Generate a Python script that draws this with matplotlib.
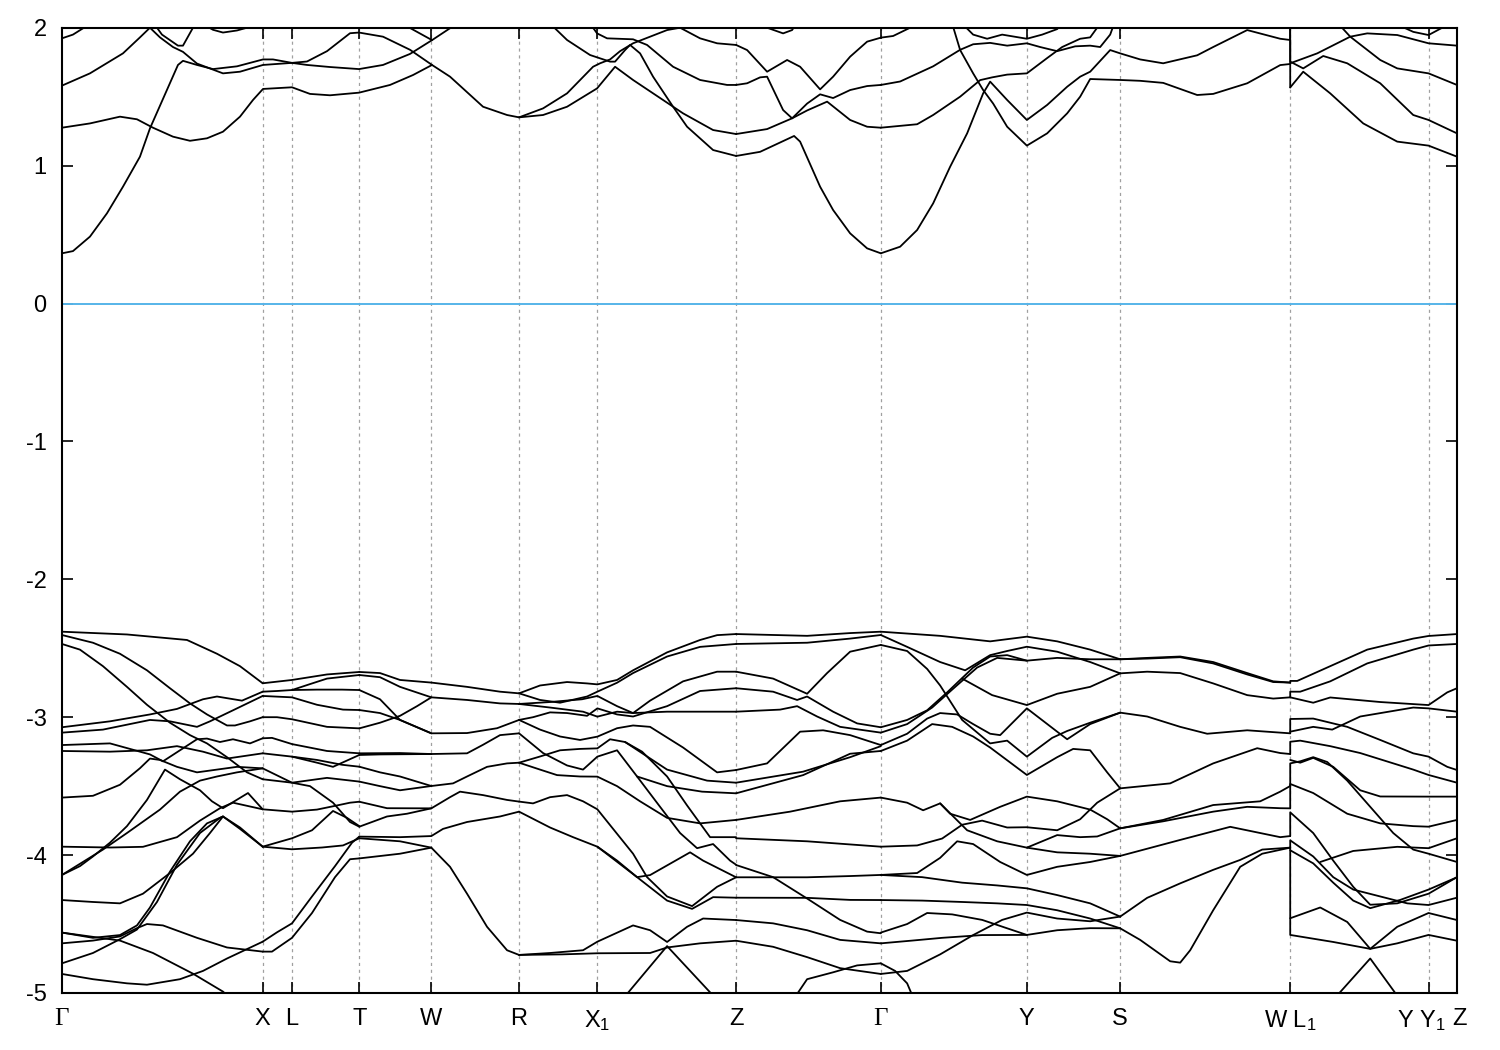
import matplotlib
matplotlib.use("Agg")
import matplotlib.pyplot as plt
import matplotlib.transforms as mtransforms

plt.rcParams['font.family'] = ['Liberation Sans', 'DejaVu Sans']
plt.rcParams['mathtext.fontset'] = 'custom'
plt.rcParams['mathtext.rm'] = 'Liberation Sans'
plt.rcParams['mathtext.it'] = 'Liberation Sans'
plt.rcParams['axes.unicode_minus'] = False

# high-symmetry points along the k-path
kpoints = [0.0, 2.007, 2.30, 2.973, 3.693, 4.57, 5.353, 6.74, 8.187, 9.647, 10.58, 12.28, 13.663, 13.947]
klabels = ['Γ', 'X', 'L', 'T', 'W', 'R', 'X$_1$', 'Z', 'Γ', 'Y', 'S', 'W L$_1$', 'Y Y$_1$', 'Z']

# conduction bands, (k, E) pairs
cb_gamma_R = [
    [(0, 0.364), (0.11, 0.38), (0.28, 0.485), (0.45, 0.654), (0.61, 0.847), (0.78, 1.065), (0.88, 1.27), (1.02, 1.50),
     (1.16, 1.73), (1.21, 1.76), (1.35, 1.73), (1.51, 1.70), (1.75, 1.72), (2.01, 1.77), (2.11, 1.77), (2.30, 1.745),
     (2.45, 1.755), (2.65, 1.83), (2.88, 1.96), (2.97, 1.965), (3.21, 1.935), (3.48, 1.84), (3.70, 1.73), (3.88, 1.645),
     (4.21, 1.427), (4.45, 1.367), (4.57, 1.35)],
    [(0, 1.275), (0.28, 1.306), (0.58, 1.355), (0.75, 1.336), (0.86, 1.294), (0.91, 1.275), (1.11, 1.21), (1.28, 1.18),
     (1.45, 1.198), (1.61, 1.246), (1.78, 1.355), (1.91, 1.476), (2.01, 1.556), (2.30, 1.568), (2.48, 1.52), (2.68, 1.51),
     (2.97, 1.529), (3.28, 1.585), (3.51, 1.657), (3.70, 1.73)],
    [(0, 1.58), (0.28, 1.669), (0.61, 1.814), (0.78, 1.93), (0.88, 2.0), (0.98, 1.93), (1.11, 1.86), (1.21, 1.825),
     (1.35, 1.74), (1.61, 1.669), (1.78, 1.681), (2.01, 1.73), (2.30, 1.745), (2.45, 1.73), (2.68, 1.715), (2.97, 1.70),
     (3.21, 1.73), (3.48, 1.81), (3.70, 1.91), (3.95, 2.03)],
    [(0, 1.923), (0.11, 1.95), (0.22, 2.0), (0.26, 2.03)],
    [(0.92, 2.03), (1.0, 1.95), (1.16, 1.87), (1.21, 1.87), (1.31, 2.0), (1.33, 2.03)],
    [(1.40, 2.03), (1.51, 1.985), (1.61, 1.965), (1.75, 1.98), (1.85, 2.0), (1.90, 2.03)],
    [(3.40, 2.03), (3.55, 1.97), (3.70, 1.91)],
]

cb_R_gamma = [
    [(4.57, 1.35), (4.81, 1.415), (5.05, 1.524), (5.31, 1.717), (5.38, 1.742), (5.48, 1.77), (5.58, 1.83), (5.71, 1.887),
     (5.88, 1.935), (6.05, 1.983), (6.18, 2.0), (6.38, 1.923), (6.55, 1.887), (6.74, 1.875)],
    [(4.57, 1.35), (4.81, 1.367), (5.05, 1.427), (5.35, 1.56), (5.53, 1.717), (5.71, 1.621), (5.96, 1.50), (6.21, 1.379),
     (6.51, 1.258), (6.74, 1.229)],
    [(4.88, 2.03), (5.05, 1.911), (5.28, 1.802), (5.48, 1.754), (5.53, 1.754), (5.63, 1.838), (5.68, 1.875), (5.78, 1.814),
     (5.91, 1.645), (6.11, 1.427), (6.25, 1.282), (6.51, 1.113), (6.74, 1.07)],
    [(5.28, 2.03), (5.35, 1.959), (5.45, 1.923), (5.71, 1.916), (5.85, 1.875), (6.11, 1.717), (6.38, 1.621), (6.65, 1.585),
     (6.74, 1.585)],
    [(6.74, 1.07), (6.98, 1.10), (7.32, 1.215), (7.38, 1.174), (7.58, 0.847), (7.71, 0.678), (7.88, 0.509), (8.05, 0.40),
     (8.187, 0.364)],
    [(6.74, 1.229), (7.05, 1.265), (7.30, 1.343), (7.45, 1.45), (7.58, 1.517), (7.71, 1.49), (7.88, 1.548), (8.05, 1.577),
     (8.187, 1.585)],
    [(6.74, 1.875), (6.85, 1.838), (7.05, 1.681), (7.25, 1.766), (7.38, 1.717), (7.58, 1.553), (7.71, 1.645), (7.88, 1.79),
     (8.05, 1.899), (8.187, 1.928), (8.31, 1.94), (8.48, 2.0), (8.52, 2.03)],
    [(6.74, 1.585), (6.85, 1.597), (6.98, 1.64), (7.05, 1.645), (7.21, 1.403), (7.30, 1.343), (7.45, 1.40), (7.65, 1.464),
     (7.88, 1.331), (8.05, 1.282), (8.187, 1.275)],
    [(6.98, 2.03), (7.05, 2.0), (7.21, 1.959), (7.30, 1.983), (7.34, 2.03)],
]

cb_gamma_W = [
    [(8.187, 0.364), (8.38, 0.412), (8.55, 0.533), (8.71, 0.726), (8.88, 0.992), (9.05, 1.234), (9.21, 1.524), (9.28, 1.609),
     (9.45, 1.476), (9.647, 1.331), (9.85, 1.44), (10.05, 1.572), (10.18, 1.645), (10.28, 1.681), (10.48, 1.838),
     (10.58, 1.814), (10.78, 1.77), (11.01, 1.742), (11.35, 1.80), (11.51, 1.86), (11.85, 1.983), (12.18, 1.92),
     (12.28, 1.911), (12.28, 1.742)],
    [(8.90, 2.03), (8.98, 1.838), (9.11, 1.669), (9.21, 1.548), (9.31, 1.45), (9.45, 1.282), (9.647, 1.145), (9.85, 1.234),
     (10.05, 1.379), (10.18, 1.50), (10.28, 1.628), (10.58, 1.621), (10.78, 1.615), (11.01, 1.60), (11.35, 1.512),
     (11.51, 1.52), (11.85, 1.597), (12.18, 1.729), (12.28, 1.737), (12.28, 1.567)],
    [(8.187, 1.275), (8.55, 1.30), (8.71, 1.367), (8.98, 1.50), (9.18, 1.62), (9.30, 1.64), (9.45, 1.66), (9.647, 1.669),
     (9.85, 1.78), (10.0, 1.86), (10.18, 1.92), (10.28, 1.93), (10.38, 2.03)],
    [(8.187, 1.585), (8.38, 1.61), (8.71, 1.72), (8.98, 1.84), (9.11, 1.88), (9.28, 1.89), (9.45, 1.87), (9.647, 1.887),
     (9.78, 1.86), (9.95, 1.83), (10.13, 1.865), (10.28, 1.87), (10.38, 1.86), (10.48, 1.95), (10.52, 2.03)],
    [(9.0, 2.03), (9.11, 1.95), (9.25, 1.92), (9.40, 1.95), (9.647, 1.92), (9.80, 1.95), (9.95, 1.99), (10.0, 2.03)],
]

cb_L1_Z = [
    [(12.28, 1.567), (12.41, 1.681), (12.68, 1.524), (13.01, 1.306), (13.35, 1.174), (13.663, 1.145), (13.947, 1.065)],
    [(12.28, 2.03), (12.28, 1.754), (12.41, 1.705), (12.61, 1.795), (12.85, 1.742), (13.18, 1.597), (13.51, 1.367),
     (13.663, 1.331), (13.947, 1.234)],
    [(12.28, 1.742), (12.55, 1.814), (12.88, 1.935), (13.05, 1.959), (13.35, 1.947), (13.663, 1.887), (13.947, 1.87)],
    [(12.76, 2.03), (12.88, 1.935), (13.18, 1.766), (13.35, 1.705), (13.663, 1.669), (13.947, 1.585)],
    [(13.33, 2.03), (13.51, 1.97), (13.663, 1.947), (13.80, 2.0), (13.85, 2.03)],
]

# valence bands, (k, E) pairs
vb_gamma_X = [
    [(0, -2.38), (0.65, -2.40), (1.25, -2.44), (1.55, -2.54), (1.78, -2.63), (2.007, -2.754)],
    [(0, -2.404), (0.31, -2.46), (0.58, -2.54), (0.85, -2.66), (1.08, -2.79), (1.28, -2.90), (1.45, -2.98), (1.65, -3.06),
     (1.73, -3.06), (1.88, -3.03), (2.007, -3.0)],
    [(0, -2.469), (0.18, -2.51), (0.41, -2.63), (0.65, -2.78), (0.85, -2.91), (1.08, -3.04), (1.28, -3.13), (1.45, -3.19),
     (1.65, -3.29), (1.85, -3.40), (2.007, -3.45)],
    [(0, -3.073), (0.48, -3.03), (0.88, -2.98), (1.15, -2.94), (1.41, -2.87), (1.55, -2.85), (1.80, -2.88), (2.007, -2.815)],
    [(0, -3.112), (0.41, -3.09), (0.88, -3.02), (1.08, -3.03), (1.35, -3.07), (1.48, -3.03), (1.71, -2.95), (2.007, -2.846)],
    [(0, -3.202), (0.48, -3.19), (0.88, -3.27), (1.01, -3.32), (1.18, -3.24), (1.35, -3.16), (1.45, -3.155), (1.58, -3.18),
     (1.71, -3.16), (1.88, -3.19), (2.007, -3.153)],
    [(0, -3.245), (0.48, -3.25), (0.85, -3.24), (1.15, -3.21), (1.41, -3.25), (1.65, -3.30), (2.007, -3.262)],
    [(0, -3.583), (0.31, -3.57), (0.58, -3.49), (0.78, -3.37), (0.88, -3.30), (0.98, -3.31), (1.15, -3.36), (1.35, -3.40),
     (1.55, -3.38), (1.75, -3.36), (2.007, -3.371)],
    [(0, -3.939), (0.48, -3.945), (0.81, -3.94), (1.15, -3.87), (1.38, -3.75), (1.58, -3.66), (1.71, -3.62), (2.007, -3.668)],
    [(0, -4.144), (0.18, -4.08), (0.31, -4.01), (0.48, -3.91), (0.65, -3.79), (0.85, -3.60), (1.03, -3.38), (1.18, -3.45),
     (1.38, -3.53), (1.50, -3.61), (1.61, -3.66), (1.86, -3.55), (2.007, -3.668)],
    [(0, -4.144), (0.41, -3.96), (0.65, -3.84), (0.98, -3.67), (1.18, -3.54), (1.38, -3.46), (1.55, -3.43), (1.75, -3.40),
     (2.007, -3.371)],
    [(0, -4.326), (0.31, -4.34), (0.58, -4.35), (0.81, -4.28), (1.08, -4.13), (1.31, -3.99), (1.48, -3.84), (1.61, -3.72),
     (1.78, -3.80), (2.007, -3.939)],
    [(0, -4.64), (0.31, -4.62), (0.58, -4.59), (0.75, -4.53), (0.85, -4.50), (1.01, -4.51), (1.35, -4.60), (1.65, -4.67),
     (2.007, -4.70)],
    [(0, -4.562), (0.31, -4.60), (0.58, -4.58), (0.75, -4.51), (0.88, -4.38), (1.08, -4.12), (1.28, -3.90), (1.45, -3.77),
     (1.61, -3.72), (1.78, -3.81), (2.007, -3.939)],
    [(0, -4.785), (0.31, -4.71), (0.58, -4.61), (0.75, -4.54), (0.95, -4.34), (1.15, -4.07), (1.38, -3.84), (1.58, -3.73),
     (1.61, -3.72)],
    [(0, -4.862), (0.31, -4.90), (0.65, -4.93), (0.85, -4.94), (1.18, -4.90), (1.41, -4.84), (1.65, -4.75), (2.007, -4.628)],
    [(0, -4.562), (0.58, -4.62), (0.91, -4.71), (1.31, -4.86), (1.61, -4.99), (1.70, -5.05)],
]

vb_X_T = [
    [(2.007, -2.754), (2.30, -2.73), (2.65, -2.69), (2.973, -2.672)],
    [(2.007, -2.815), (2.15, -2.81), (2.30, -2.803), (2.48, -2.76), (2.65, -2.72), (2.973, -2.694)],
    [(2.30, -2.803), (2.55, -2.80), (2.80, -2.80), (2.973, -2.803)],
    [(2.007, -2.846), (2.30, -2.856), (2.55, -2.91), (2.81, -2.945), (2.973, -2.948)],
    [(2.007, -3.0), (2.15, -3.0), (2.30, -3.015), (2.65, -3.07), (2.973, -3.081)],
    [(2.007, -3.153), (2.10, -3.15), (2.30, -3.195), (2.65, -3.245), (2.973, -3.262)],
    [(2.007, -3.262), (2.30, -3.286), (2.55, -3.33), (2.71, -3.36), (2.973, -3.274)],
    [(2.007, -3.371), (2.30, -3.475), (2.48, -3.50), (2.71, -3.62), (2.88, -3.76), (2.973, -3.794)],
    [(2.007, -3.45), (2.30, -3.475), (2.65, -3.44), (2.973, -3.467)],
    [(2.007, -3.668), (2.30, -3.685), (2.55, -3.67), (2.75, -3.64), (2.88, -3.62), (2.973, -3.613)],
    [(2.007, -3.939), (2.30, -3.878), (2.50, -3.82), (2.71, -3.68), (2.85, -3.73), (2.973, -3.79)],
    [(2.007, -3.939), (2.30, -3.958), (2.60, -3.945), (2.81, -3.93), (2.973, -3.878)],
    [(2.007, -4.628), (2.15, -4.56), (2.30, -4.495), (2.50, -4.30), (2.73, -4.08), (2.90, -3.91), (2.973, -3.866)],
    [(2.007, -4.70), (2.10, -4.70), (2.30, -4.60), (2.50, -4.42), (2.73, -4.16), (2.88, -4.03), (2.973, -4.024)],
    [(2.30, -3.286), (2.55, -3.31), (2.80, -3.345), (2.973, -3.359)],
]

vb_T_R = [
    [(2.973, -2.672), (3.18, -2.68), (3.38, -2.73), (3.693, -2.749), (4.05, -2.78), (4.38, -2.815), (4.57, -2.827)],
    [(2.973, -2.694), (3.18, -2.71), (3.38, -2.78), (3.693, -2.856), (4.05, -2.875), (4.38, -2.90), (4.57, -2.904)],
    [(2.973, -2.803), (3.18, -2.87), (3.38, -3.02), (3.693, -3.117), (4.05, -3.115), (4.35, -3.08), (4.57, -3.02)],
    [(2.973, -2.948), (3.18, -2.97), (3.38, -3.02), (3.693, -3.117)],
    [(2.973, -3.081), (3.18, -3.04), (3.38, -2.99), (3.55, -2.92), (3.693, -2.856)],
    [(2.973, -3.262), (3.38, -3.26), (3.693, -3.267), (4.05, -3.262), (4.21, -3.20), (4.38, -3.13), (4.57, -3.117)],
    [(2.973, -3.274), (3.18, -3.27), (3.693, -3.267)],
    [(2.973, -3.359), (3.18, -3.40), (3.38, -3.43), (3.693, -3.499), (3.91, -3.48), (4.05, -3.43), (4.25, -3.36),
     (4.45, -3.335), (4.57, -3.33)],
    [(2.973, -3.467), (3.18, -3.50), (3.38, -3.53), (3.693, -3.499)],
    [(2.973, -3.613), (3.25, -3.66), (3.693, -3.661), (3.88, -3.58), (3.98, -3.54), (4.21, -3.565), (4.45, -3.60),
     (4.57, -3.612)],
    [(2.973, -3.794), (3.25, -3.72), (3.45, -3.70), (3.693, -3.661)],
    [(2.973, -3.866), (3.38, -3.87), (3.693, -3.862), (3.81, -3.81), (4.05, -3.76), (4.38, -3.72), (4.57, -3.685)],
    [(2.973, -3.878), (3.38, -3.90), (3.693, -3.946), (3.88, -4.085), (4.05, -4.28), (4.25, -4.52), (4.45, -4.69),
     (4.57, -4.724)],
    [(2.973, -4.024), (3.38, -3.99), (3.693, -3.946)],
]

vb_R_Z = [
    [(4.57, -2.827), (4.78, -2.77), (5.05, -2.745), (5.25, -2.755), (5.353, -2.762), (5.55, -2.73), (5.71, -2.66),
     (6.05, -2.53), (6.38, -2.44), (6.55, -2.405), (6.74, -2.397)],
    [(4.57, -2.827), (4.78, -2.875), (4.98, -2.895), (5.25, -2.85), (5.353, -2.815), (5.55, -2.75), (5.71, -2.68),
     (6.05, -2.56), (6.38, -2.49), (6.74, -2.469)],
    [(4.57, -2.904), (4.88, -2.89), (5.2, -2.87), (5.353, -2.846), (5.55, -2.92), (5.71, -2.97), (5.88, -2.88),
     (6.21, -2.74), (6.55, -2.67), (6.74, -2.67)],
    [(4.57, -3.02), (4.71, -3.00), (4.88, -2.965), (5.05, -2.97), (5.25, -2.99), (5.353, -2.936), (5.55, -2.98),
     (5.71, -2.995), (6.05, -2.92), (6.38, -2.81), (6.74, -2.79)],
    [(4.57, -2.904), (4.88, -2.93), (5.21, -2.96), (5.353, -2.996), (5.55, -2.96), (5.71, -2.97), (6.05, -2.96),
     (6.38, -2.96), (6.74, -2.96)],
    [(4.57, -3.02), (4.78, -3.09), (4.98, -3.14), (5.18, -3.165), (5.353, -3.141), (5.55, -3.08), (5.71, -3.06),
     (5.88, -3.07), (6.21, -3.22), (6.55, -3.40), (6.74, -3.383)],
    [(4.57, -3.33), (4.78, -3.285), (4.98, -3.24), (5.18, -3.23), (5.353, -3.226), (5.48, -3.16), (5.63, -3.18),
     (5.80, -3.25), (6.05, -3.43), (6.25, -3.64), (6.48, -3.87), (6.74, -3.87)],
    [(4.57, -3.117), (4.81, -3.26), (5.05, -3.35), (5.21, -3.38), (5.353, -3.286), (5.55, -3.24), (5.75, -3.43),
     (5.98, -3.65), (6.18, -3.84), (6.35, -3.95), (6.51, -3.92), (6.68, -4.04), (6.74, -4.07)],
    [(4.57, -3.33), (4.78, -3.38), (4.95, -3.42), (5.18, -3.43), (5.353, -3.431), (5.55, -3.50), (5.78, -3.61),
     (6.05, -3.73), (6.38, -3.77), (6.74, -3.745)],
    [(4.57, -3.612), (4.71, -3.625), (4.88, -3.58), (5.05, -3.565), (5.21, -3.61), (5.353, -3.668), (5.71, -3.99),
     (5.85, -4.16), (6.05, -4.30), (6.30, -4.37), (6.55, -4.23), (6.74, -4.161)],
    [(4.57, -3.685), (4.88, -3.80), (5.11, -3.87), (5.353, -3.939), (5.55, -4.04), (5.75, -4.16), (6.05, -4.33),
     (6.30, -4.39), (6.51, -4.305), (6.74, -4.309)],
    [(5.353, -3.939), (5.75, -4.16), (5.88, -4.145), (6.28, -3.98), (6.41, -4.04), (6.74, -4.161)],
    [(4.57, -4.724), (4.88, -4.71), (5.21, -4.69), (5.353, -4.628), (5.71, -4.51), (5.88, -4.545), (6.05, -4.63),
     (6.25, -4.52), (6.41, -4.46), (6.74, -4.471)],
    [(4.57, -4.724), (5.0, -4.72), (5.353, -4.712), (5.88, -4.71), (6.05, -4.67), (6.38, -4.64), (6.74, -4.621)],
    [(5.60, -5.05), (6.05, -4.66), (6.55, -5.05)],
    [(5.63, -3.18), (6.05, -3.38), (6.45, -3.46), (6.74, -3.475)],
    [(5.75, -3.43), (6.05, -3.50), (6.40, -3.54), (6.74, -3.552)],
]

vb_Z_gamma = [
    [(6.74, -2.397), (7.45, -2.41), (7.88, -2.39), (8.187, -2.38)],
    [(6.74, -2.469), (7.45, -2.46), (7.88, -2.43), (8.187, -2.404)],
    [(6.74, -2.67), (7.11, -2.72), (7.45, -2.83), (7.65, -2.68), (7.88, -2.525), (8.187, -2.476)],
    [(6.74, -2.79), (7.11, -2.815), (7.35, -2.875), (7.45, -2.85), (7.71, -2.96), (7.95, -3.045), (8.187, -3.073)],
    [(6.74, -2.96), (7.18, -2.945), (7.35, -2.92), (7.55, -2.995), (7.78, -3.07), (8.187, -3.112)],
    [(6.74, -3.383), (7.05, -3.335), (7.38, -3.105), (7.61, -3.095), (7.88, -3.13), (8.187, -3.202)],
    [(6.74, -3.475), (7.41, -3.395), (7.88, -3.29), (8.187, -3.21)],
    [(6.74, -3.552), (7.41, -3.42), (7.88, -3.265), (8.187, -3.245)],
    [(6.74, -3.745), (7.28, -3.685), (7.78, -3.61), (8.187, -3.583)],
    [(6.74, -3.878), (7.45, -3.90), (8.187, -3.939)],
    [(6.74, -4.072), (7.11, -4.16), (7.45, -4.315), (7.78, -4.47), (8.05, -4.555), (8.187, -4.567)],
    [(6.74, -4.161), (7.45, -4.161), (7.88, -4.152), (8.187, -4.144)],
    [(6.74, -4.309), (7.45, -4.31), (7.88, -4.325), (8.187, -4.326)],
    [(6.74, -4.471), (7.11, -4.495), (7.45, -4.545), (7.78, -4.615), (8.187, -4.64)],
    [(6.74, -4.621), (7.11, -4.665), (7.45, -4.74), (7.78, -4.82), (8.187, -4.862)],
    [(7.31, -5.05), (7.45, -4.90), (7.71, -4.85), (7.95, -4.80), (8.187, -4.785)],
]

vb_gamma_S = [
    [(8.187, -2.38), (8.78, -2.41), (9.28, -2.45), (9.647, -2.416), (9.95, -2.45), (10.28, -2.51), (10.58, -2.58)],
    [(8.187, -2.404), (8.45, -2.49), (8.78, -2.60), (9.03, -2.66), (9.28, -2.55), (9.45, -2.52), (9.647, -2.489),
     (9.95, -2.525), (10.28, -2.60), (10.58, -2.682)],
    [(8.187, -2.476), (8.45, -2.52), (8.65, -2.65), (8.78, -2.77), (9.0, -3.02), (9.28, -3.19), (9.45, -3.17),
     (9.647, -3.286), (9.90, -3.15), (10.05, -3.10), (10.28, -3.04), (10.58, -2.967)],
    [(8.187, -3.073), (8.45, -3.02), (8.65, -2.95), (8.85, -2.82), (9.11, -2.64), (9.28, -2.56), (9.45, -2.55),
     (9.647, -2.59), (9.95, -2.57), (10.28, -2.58), (10.58, -2.58)],
    [(8.187, -3.112), (8.45, -3.05), (8.70, -2.93), (8.90, -2.80), (9.15, -2.64), (9.35, -2.57), (9.647, -2.59)],
    [(8.187, -3.202), (8.45, -3.12), (8.65, -3.01), (8.78, -2.97), (8.95, -2.98), (9.11, -3.05), (9.28, -3.12),
     (9.38, -3.13), (9.647, -2.936), (9.95, -3.105), (10.05, -3.16), (10.28, -3.05), (10.58, -2.967)],
    [(8.187, -3.245), (8.45, -3.17), (8.70, -3.05), (8.90, -3.07), (9.11, -3.14), (9.28, -3.22), (9.647, -3.419),
     (9.95, -3.29), (10.11, -3.23), (10.28, -3.24), (10.45, -3.40), (10.58, -3.516)],
    [(9.0, -2.72), (9.30, -2.84), (9.647, -2.912), (9.95, -2.83), (10.28, -2.78), (10.58, -2.682)],
    [(8.187, -3.583), (8.45, -3.62), (8.61, -3.675), (8.78, -3.625), (8.88, -3.70), (9.08, -3.745), (9.38, -3.65),
     (9.647, -3.576), (9.95, -3.61), (10.28, -3.67), (10.45, -3.74), (10.58, -3.806)],
    [(8.187, -3.939), (8.55, -3.93), (8.80, -3.88), (9.0, -3.78), (9.2, -3.75), (9.45, -3.80), (9.647, -3.798),
     (9.95, -3.82), (10.18, -3.74), (10.35, -3.62), (10.58, -3.516)],
    [(8.78, -3.625), (9.05, -3.82), (9.35, -3.90), (9.647, -3.946), (9.95, -3.855), (10.18, -3.87), (10.35, -3.865),
     (10.58, -3.806)],
    [(8.187, -4.144), (8.55, -4.13), (8.78, -4.02), (8.95, -3.90), (9.11, -3.92), (9.38, -4.05), (9.647, -4.144),
     (9.95, -4.085), (10.28, -4.05), (10.58, -4.006)],
    [(8.187, -4.144), (8.60, -4.16), (9.0, -4.20), (9.35, -4.22), (9.647, -4.241), (9.95, -4.29), (10.28, -4.35),
     (10.58, -4.446)],
    [(9.647, -3.946), (9.95, -3.98), (10.28, -3.99), (10.58, -4.006)],
    [(8.187, -4.326), (8.6, -4.33), (9.0, -4.34), (9.35, -4.35), (9.647, -4.362), (9.95, -4.40), (10.28, -4.46),
     (10.58, -4.531)],
    [(8.187, -4.562), (8.45, -4.50), (8.65, -4.42), (8.9, -4.43), (9.2, -4.47), (9.647, -4.579), (9.95, -4.545),
     (10.28, -4.53), (10.58, -4.531)],
    [(8.187, -4.64), (8.5, -4.62), (8.8, -4.60), (9.2, -4.58), (9.647, -4.579)],
    [(8.187, -4.862), (8.45, -4.84), (8.78, -4.72), (9.11, -4.58), (9.40, -4.47), (9.647, -4.417), (9.95, -4.46),
     (10.28, -4.48), (10.58, -4.446)],
    [(8.187, -4.785), (8.33, -4.84), (8.45, -4.93), (8.52, -5.05)],
]

vb_S_W = [
    [(10.58, -2.58), (10.85, -2.57), (11.18, -2.56), (11.51, -2.60), (11.85, -2.68), (12.11, -2.74), (12.28, -2.749)],
    [(10.58, -2.58), (10.85, -2.575), (11.18, -2.565), (11.51, -2.61), (11.85, -2.69), (12.11, -2.745), (12.28, -2.749)],
    [(10.58, -2.682), (10.85, -2.67), (11.18, -2.68), (11.51, -2.755), (11.85, -2.84), (12.11, -2.865), (12.28, -2.856)],
    [(10.58, -2.967), (10.85, -2.995), (11.18, -3.07), (11.45, -3.12), (11.85, -3.095), (12.28, -3.117)],
    [(10.58, -3.516), (11.08, -3.48), (11.51, -3.335), (11.95, -3.225), (12.18, -3.26), (12.28, -3.267)],
    [(10.58, -3.806), (11.01, -3.745), (11.51, -3.637), (11.98, -3.61), (12.18, -3.54), (12.28, -3.499)],
    [(10.58, -3.806), (11.01, -3.755), (11.51, -3.685), (11.85, -3.65), (12.18, -3.66), (12.28, -3.661)],
    [(10.58, -4.006), (11.18, -3.89), (11.68, -3.795), (12.18, -3.87), (12.28, -3.862)],
    [(10.58, -4.446), (10.85, -4.31), (11.18, -4.205), (11.51, -4.107), (11.78, -4.035), (12.0, -3.96), (12.28, -3.946)],
    [(10.58, -4.531), (10.78, -4.615), (11.08, -4.77), (11.18, -4.78), (11.28, -4.69), (11.51, -4.40), (11.78, -4.085),
     (12.0, -3.99), (12.28, -3.946)],
]

vb_L1_Z = [
    [(12.28, -2.749), (12.28, -2.737), (12.35, -2.737), (12.68, -2.63), (13.05, -2.51), (13.51, -2.43), (13.663, -2.411),
     (13.947, -2.397)],
    [(12.28, -2.856), (12.28, -2.815), (12.38, -2.815), (12.68, -2.74), (13.05, -2.61), (13.51, -2.51), (13.663, -2.48),
     (13.947, -2.469)],
    [(12.28, -2.856), (12.51, -2.895), (12.68, -2.857), (13.18, -2.89), (13.663, -2.912), (13.85, -2.82), (13.947, -2.79)],
    [(12.28, -3.117), (12.28, -3.013), (12.51, -3.01), (12.85, -3.07), (13.18, -3.165), (13.51, -3.262), (13.663, -3.286),
     (13.85, -3.36), (13.947, -3.383)],
    [(12.28, -3.105), (12.51, -3.07), (12.70, -3.09), (12.98, -2.995), (13.51, -2.93), (13.663, -2.936), (13.947, -2.96)],
    [(12.28, -3.267), (12.28, -3.178), (12.38, -3.17), (12.68, -3.21), (12.98, -3.26), (13.51, -3.38), (13.663, -3.419),
     (13.947, -3.475)],
    [(12.28, -3.31), (12.38, -3.33), (12.51, -3.295), (12.71, -3.36), (12.98, -3.53), (13.18, -3.575), (13.663, -3.576),
     (13.947, -3.576)],
    [(12.28, -3.499), (12.28, -3.335), (12.38, -3.32), (12.51, -3.29), (12.65, -3.325), (12.85, -3.46), (13.08, -3.65),
     (13.31, -3.84), (13.51, -3.96), (13.663, -3.99), (13.947, -4.05)],
    [(12.28, -3.661), (12.28, -3.484), (12.51, -3.55), (12.85, -3.70), (13.18, -3.77), (13.51, -3.79), (13.663, -3.794),
     (13.947, -3.745)],
    [(12.28, -3.862), (12.28, -3.69), (12.51, -3.84), (12.71, -4.04), (12.91, -4.23), (13.08, -4.36), (13.35, -4.35),
     (13.663, -4.28), (13.947, -4.16)],
    [(12.28, -3.946), (12.28, -3.893), (12.51, -4.01), (12.71, -4.16), (12.91, -4.25), (13.18, -4.30), (13.45, -4.35),
     (13.663, -4.362), (13.947, -4.309)],
    [(12.28, -3.965), (12.51, -4.06), (12.71, -4.20), (12.91, -4.33), (13.08, -4.385), (13.38, -4.325), (13.663, -4.25),
     (13.947, -4.161)],
    [(12.58, -4.05), (12.91, -3.97), (13.35, -3.94), (13.663, -3.95), (13.947, -3.878)],
    [(12.28, -4.458), (12.58, -4.38), (12.85, -4.485), (13.08, -4.68), (13.35, -4.52), (13.663, -4.42), (13.947, -4.471)],
    [(12.28, -3.946), (12.28, -4.579), (12.71, -4.63), (13.08, -4.68), (13.35, -4.64), (13.663, -4.579), (13.947, -4.621)],
    [(12.71, -5.05), (13.08, -4.75), (13.38, -5.05)],
]

all_bands = (cb_gamma_R + cb_R_gamma + cb_gamma_W + cb_L1_Z +
             vb_gamma_X + vb_X_T + vb_T_R + vb_R_Z + vb_Z_gamma + vb_gamma_S + vb_S_W + vb_L1_Z)

fig, ax = plt.subplots(figsize=(15, 10.5), dpi=100)
fig.subplots_adjust(left=0.0413, right=0.9713, bottom=0.0543, top=0.9736)

for k in kpoints[1:-1]:
    ax.axvline(k, color='#a0a0a0', lw=0.9, ls=(0, (2.5, 3)), zorder=1)
ax.axhline(0, color='#56b4e9', lw=1.4, zorder=2)

for band in all_bands:
    ks = [p[0] for p in band]
    es = [p[1] for p in band]
    ax.plot(ks, es, color='black', lw=1.3, solid_joinstyle='round', solid_capstyle='round', zorder=3)

ax.set_xlim(kpoints[0], kpoints[-1])
ax.set_ylim(-5, 2)
ax.set_xticks(kpoints)
ax.set_xticklabels(klabels)
ax.set_yticks(range(-5, 3))
ax.tick_params(direction='in', top=True, right=True, length=8, width=1.2, labelsize=17, pad=11)
xlabs = ax.get_xticklabels()
for lab in xlabs:
    if lab.get_text() == 'Γ':
        lab.set_fontfamily('Liberation Serif')
        lab.set_fontsize(18)
# the "Y Y1" label sits right next to the final Z: right-align it so they do not collide
yy_lab = xlabs[-2]
yy_lab.set_horizontalalignment('right')
yy_lab.set_transform(yy_lab.get_transform() +
                     mtransforms.ScaledTranslation(0.17, 0, fig.dpi_scale_trans))
z_lab = xlabs[-1]
z_lab.set_transform(z_lab.get_transform() +
                    mtransforms.ScaledTranslation(0.03, 0, fig.dpi_scale_trans))
for sp in ax.spines.values():
    sp.set_linewidth(1.5)

fig.savefig('out.png', dpi=100)
